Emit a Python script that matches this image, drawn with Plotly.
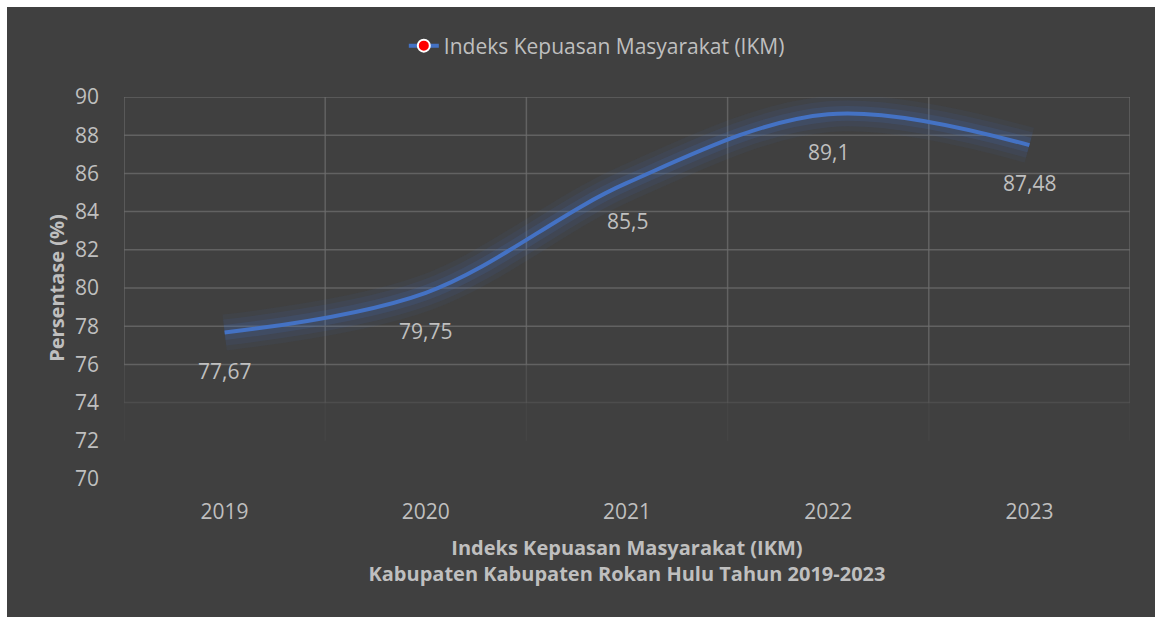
import plotly.graph_objects as go

years = ["2019", "2020", "2021", "2022", "2023"]
ikm = [77.67, 79.75, 85.5, 89.1, 87.48]
labels = ["77,67", "79,75", "85,5", "89,1", "87,48"]
y_ticks = [70, 72, 74, 76, 78, 80, 82, 84, 86, 88, 90]

series_name = "Indeks Kepuasan Masyarakat (IKM)"
x_title = "<b>Indeks Kepuasan Masyarakat (IKM)<br>Kabupaten Kabupaten Rokan Hulu Tahun 2019-2023</b>"
y_title = "<b>Persentase (%)</b>"

BG = "#404040"
TXT = "#bfbfbf"
BLUE = "#4472C4"
FONT = "Open Sans"

fig = go.Figure()

# glow layers
for w, a in [(36, 0.06), (26, 0.09), (15, 0.15)]:
    fig.add_trace(go.Scatter(x=years, y=ikm, mode="lines",
                             line=dict(color=f"rgba(68,114,196,{a})", width=w, shape="spline", smoothing=1.0),
                             showlegend=False, hoverinfo="skip"))

fig.add_trace(go.Scatter(x=years, y=ikm, mode="lines", name=series_name,
                         line=dict(color=BLUE, width=4, shape="spline", smoothing=1.0),
                         showlegend=False))

# legend entry
fig.add_trace(go.Scatter(x=[None], y=[None], mode="lines+markers", name=series_name,
                         line=dict(color=BLUE, width=4),
                         marker=dict(color="#ff0000", size=12, line=dict(color="white", width=2))))

for i, (v, lab) in enumerate(zip(ikm, labels)):
    fig.add_annotation(x=i, y=v, xref="x", yref="y", text=lab, showarrow=False, yshift=-38,
                       font=dict(family=FONT, size=21, color=TXT))

# gridlines (fading toward the bottom)
shapes = []
grid = "110,110,110"
for t in y_ticks:
    if t >= 76:
        op = 0.75
    elif t == 74:
        op = 0.3
    else:
        continue
    shapes.append(dict(type="line", xref="x", yref="y", x0=-0.5, x1=len(years) - 0.5, y0=t, y1=t,
                       line=dict(color=f"rgba({grid},{op})", width=1.5), layer="below"))
for i in range(len(years) + 1):
    xv = i - 0.5
    for y0, y1, op in [(76, 90, 0.75), (74, 76, 0.35), (72, 74, 0.12)]:
        shapes.append(dict(type="line", xref="x", yref="y", x0=xv, x1=xv, y0=y0, y1=y1,
                           line=dict(color=f"rgba({grid},{op})", width=1.5), layer="below"))

W, H = 1148, 610
L, R, T, B = 117, 25, 90, 138

fig.update_layout(
    width=W, height=H,
    margin=dict(l=L, r=R, t=T, b=B),
    paper_bgcolor=BG,
    plot_bgcolor="rgba(0,0,0,0)",
    font=dict(family=FONT, color=TXT, size=21),
    shapes=shapes,
    legend=dict(orientation="h", x=0.47, xanchor="center", y=1.1335, yanchor="middle",
                font=dict(family=FONT, size=21, color=TXT), bgcolor="rgba(0,0,0,0)"),
    xaxis=dict(type="category", range=[-0.5, 4.5], showgrid=False, zeroline=False, showline=False,
               tickfont=dict(family=FONT, size=21, color=TXT), ticks="", ticklabelstandoff=18,
               title=dict(text=x_title, font=dict(family=FONT, size=20, color=TXT), standoff=16),
               fixedrange=True),
    yaxis=dict(range=[70, 90], tickvals=y_ticks, showgrid=False, zeroline=False, showline=False,
               tickfont=dict(family=FONT, size=21, color=TXT), ticks="", ticklabelstandoff=24,
               title=dict(text=y_title, font=dict(family=FONT, size=20, color=TXT), standoff=4),
               fixedrange=True),
)

post = ("var b=document.body, h=document.documentElement;"
        "h.style.overflow='hidden'; h.style.background='" + BG + "';"
        "b.style.overflow='hidden'; b.style.margin='0'; b.style.background='" + BG + "';"
        "b.style.borderTop='7px solid white'; b.style.borderLeft='7px solid white';")

fig.write_html("out.html", post_script=post)
